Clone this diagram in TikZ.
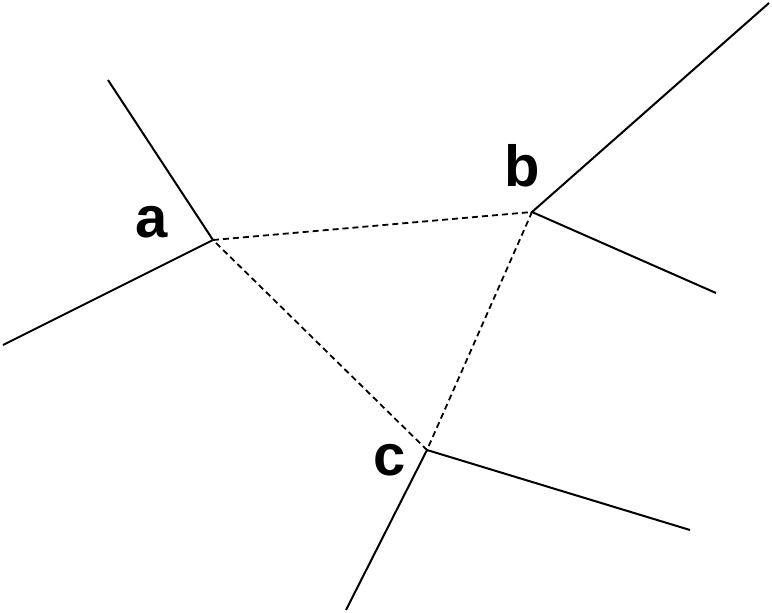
\documentclass[tikz,border=0pt]{standalone}
\usepackage{fontspec}
\setmainfont{Liberation Sans}
\begin{document}
\begin{tikzpicture}[x=1pt,y=-1pt,
  edge/.style={line width=2pt},
  dual/.style={line width=1.8pt,dash pattern=on 6pt off 4pt},
  lab/.style={font=\bfseries\fontsize{58}{58}\selectfont,inner sep=0pt}]
\useasboundingbox (0,0) rectangle (772,613);
\coordinate (a) at (213,240);
\coordinate (b) at (532,212);
\coordinate (c) at (427,450);
\coordinate (a1) at (108,80);
\coordinate (a2) at (3,345);
\coordinate (b1) at (769,3);
\coordinate (b2) at (716,293);
\coordinate (c1) at (690,530);
\coordinate (c2) at (346,610);
\draw[edge] (a1) -- (a) -- (a2);
\draw[edge] (b1) -- (b) -- (b2);
\draw[edge] (c1) -- (c) -- (c2);
\draw[dual] (a) -- (b) -- (c) -- (a);
\node[lab] (la) at (152,222) {a};
\node[lab] (lb) at (522,166) {b};
\node[lab] (lc) at (390,460) {c};
\end{tikzpicture}
\end{document}
